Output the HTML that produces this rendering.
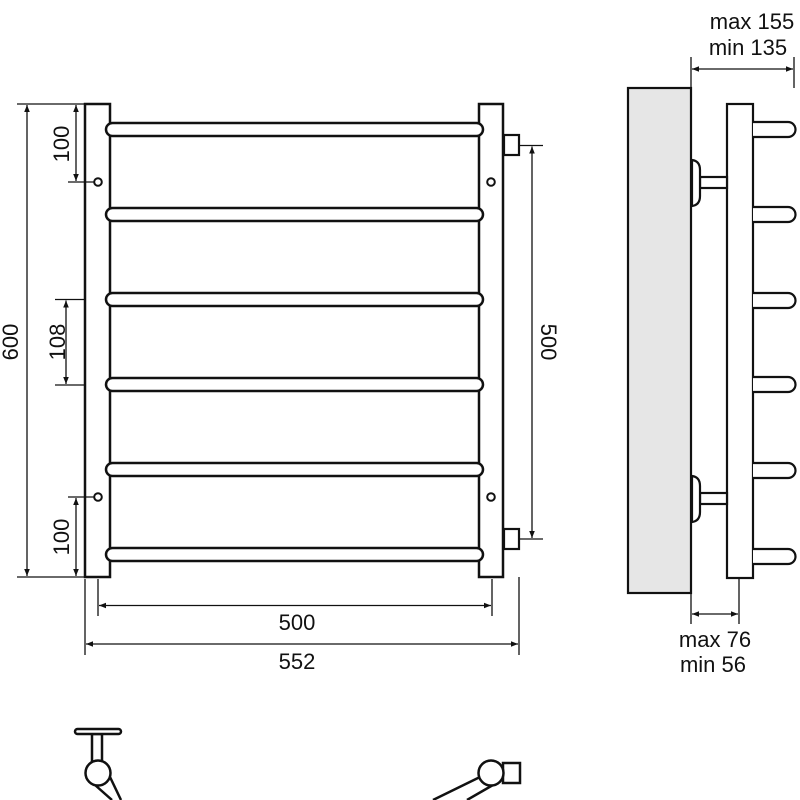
<!DOCTYPE html>
<html><head><meta charset="utf-8"><style>html,body{margin:0;padding:0;background:#fff}svg{display:block}text{font-family:"Liberation Sans",Arial,sans-serif;fill:#111}</style></head>
<body>
<svg width="800" height="800" viewBox="0 0 800 800" xmlns="http://www.w3.org/2000/svg">
<defs>
<marker id="a" viewBox="0 0 10 10" refX="10" refY="5" markerWidth="9" markerHeight="7" markerUnits="userSpaceOnUse" orient="auto-start-reverse"><path d="M0,1 L10,5 L0,9 z" fill="#111"/></marker>
</defs>
<g stroke="#111" fill="none">
<rect x="85" y="104" width="25" height="473" stroke-width="2.5" fill="#fff"/>
<rect x="479" y="104" width="24" height="473" stroke-width="2.5" fill="#fff"/>
<g stroke-width="2.5" fill="#fff">
<rect x="106" y="123" width="377" height="13" rx="6.5"/>
<rect x="106" y="208" width="377" height="13" rx="6.5"/>
<rect x="106" y="293" width="377" height="13" rx="6.5"/>
<rect x="106" y="378" width="377" height="13" rx="6.5"/>
<rect x="106" y="463" width="377" height="13" rx="6.5"/>
<rect x="106" y="548" width="377" height="13" rx="6.5"/>
</g>
<g stroke-width="2"><circle cx="98" cy="182" r="3.8"/><circle cx="98" cy="497" r="3.8"/><circle cx="491" cy="182" r="3.8"/><circle cx="491" cy="497" r="3.8"/></g>
<rect x="504" y="135" width="15" height="20" stroke-width="2.2" fill="#fff"/>
<rect x="504" y="529" width="15" height="20" stroke-width="2.2" fill="#fff"/>
<g stroke-width="1.3">
<line x1="17" y1="104" x2="85" y2="104"/><line x1="17" y1="577" x2="85" y2="577"/>
<line x1="27" y1="105" x2="27" y2="576" marker-start="url(#a)" marker-end="url(#a)"/>
<line x1="68" y1="182" x2="95" y2="182"/>
<line x1="76" y1="105" x2="76" y2="181" marker-start="url(#a)" marker-end="url(#a)"/>
<line x1="68" y1="497" x2="95" y2="497"/>
<line x1="76" y1="498" x2="76" y2="576" marker-start="url(#a)" marker-end="url(#a)"/>
<line x1="55" y1="299.5" x2="85" y2="299.5"/><line x1="55" y1="385" x2="85" y2="385"/>
<line x1="66" y1="300.5" x2="66" y2="384" marker-start="url(#a)" marker-end="url(#a)"/>
<line x1="520" y1="145.5" x2="543" y2="145.5"/><line x1="520" y1="539" x2="543" y2="539"/>
<line x1="532" y1="146.5" x2="532" y2="538" marker-start="url(#a)" marker-end="url(#a)"/>
<line x1="98" y1="579" x2="98" y2="616"/><line x1="492" y1="579" x2="492" y2="616"/>
<line x1="99" y1="605.5" x2="491" y2="605.5" marker-start="url(#a)" marker-end="url(#a)"/>
<line x1="85" y1="579" x2="85" y2="655"/><line x1="519" y1="577" x2="519" y2="655"/>
<line x1="86" y1="644" x2="518" y2="644" marker-start="url(#a)" marker-end="url(#a)"/>
</g>
<rect x="628" y="88" width="63" height="505" stroke-width="2.2" fill="#e6e6e6"/>
<rect x="727" y="104" width="26" height="474" stroke-width="2.2" fill="#fff"/>
<g stroke-width="2.2" fill="#fff">
<path d="M753,122 H788 A7.5,7.5 0 0 1 788,137 H753"/>
<path d="M753,207 H788 A7.5,7.5 0 0 1 788,222 H753"/>
<path d="M753,293 H788 A7.5,7.5 0 0 1 788,308 H753"/>
<path d="M753,377 H788 A7.5,7.5 0 0 1 788,392 H753"/>
<path d="M753,463 H788 A7.5,7.5 0 0 1 788,478 H753"/>
<path d="M753,549 H788 A7.5,7.5 0 0 1 788,564 H753"/>
<rect x="700" y="177" width="27" height="11"/>
<rect x="700" y="493" width="27" height="11"/>
<path d="M692,160 Q700,161 700,170 L700,196 Q700,205 692,206 Z"/>
<path d="M692,476 Q700,477 700,486 L700,512 Q700,521 692,522 Z"/>
</g>
<g stroke-width="1.3">
<line x1="691" y1="57" x2="691" y2="88"/><line x1="794" y1="57" x2="794" y2="88"/>
<line x1="692" y1="69" x2="793" y2="69" marker-start="url(#a)" marker-end="url(#a)"/>
<line x1="691" y1="593" x2="691" y2="624"/><line x1="739" y1="578" x2="739" y2="624"/>
<line x1="692" y1="614" x2="738" y2="614" marker-start="url(#a)" marker-end="url(#a)"/>
</g>
<g stroke-width="2.5" fill="#fff">
<path d="M121,800 L110,777 M95,785 L112,800"/>
<path d="M433,800 L480,777 M493,785 L467,800"/>
<rect x="92" y="734" width="10" height="28"/>
<rect x="75" y="729" width="46" height="5" rx="2.5"/>
<circle cx="98" cy="773" r="12.5"/>
<rect x="503" y="763" width="17" height="20"/>
<circle cx="491" cy="773" r="12.5"/>
</g>
</g>
<g font-size="22" text-anchor="middle">
<text x="297" y="630">500</text>
<text x="297" y="669">552</text>
<text x="752" y="29">max 155</text>
<text x="748" y="55">min 135</text>
<text x="715" y="647">max 76</text>
<text x="713" y="672">min 56</text>
<text transform="translate(18,342) rotate(-90)">600</text>
<text transform="translate(69,144) rotate(-90)">100</text>
<text transform="translate(65,342) rotate(-90)">108</text>
<text transform="translate(69,537) rotate(-90)">100</text>
<text transform="translate(541,342) rotate(90)">500</text>
</g>
</svg>
</body></html>
